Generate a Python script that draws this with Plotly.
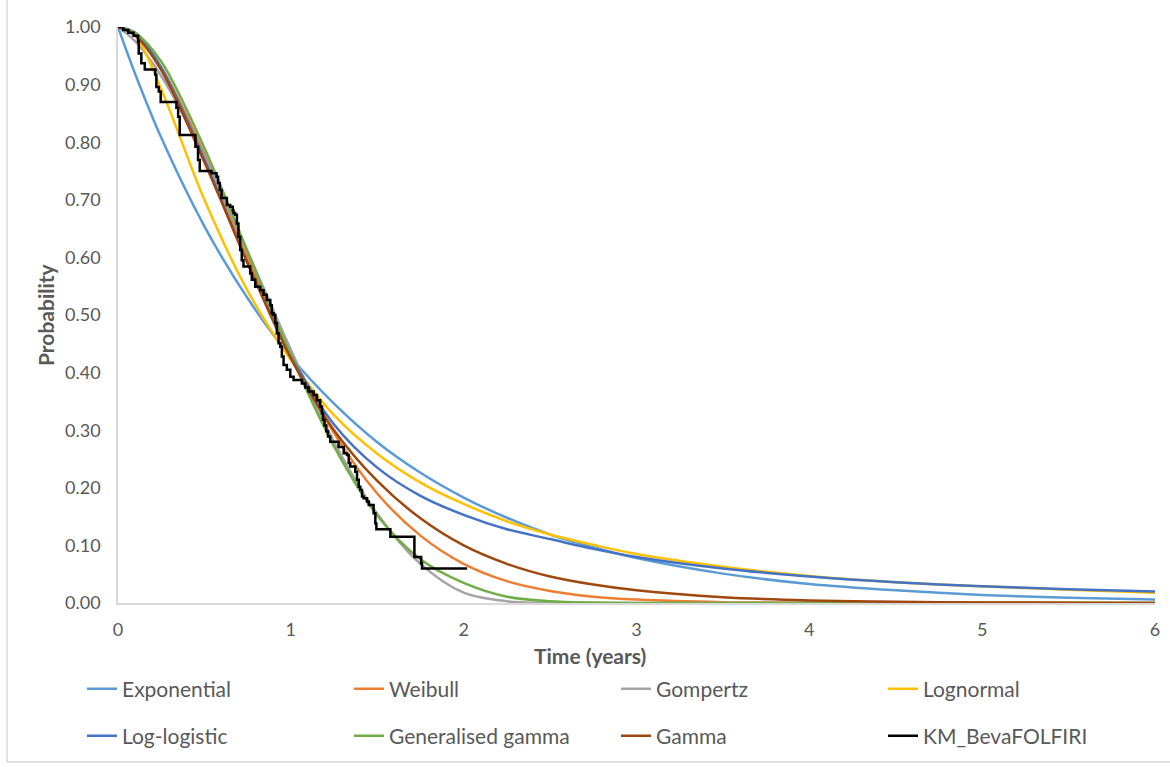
import plotly.graph_objects as go

# ---- data ----
time_grid = [0, 0.1, 0.25, 0.5, 0.75, 1, 1.25, 1.5, 1.75, 2, 2.25, 2.5, 2.75, 3, 3.5, 4, 4.5, 5, 5.5, 6]

exponential = [1, 0.918, 0.808, 0.654, 0.529, 0.427, 0.346, 0.279, 0.226, 0.183, 0.148, 0.119, 0.097, 0.078, 0.051, 0.033, 0.022, 0.014, 0.009, 0.006]
weibull = [1, 0.985, 0.93, 0.78, 0.60, 0.435, 0.295, 0.19, 0.117, 0.068, 0.038, 0.021, 0.011, 0.006, 0.0015, 0.0003, 0.0001, 0, 0, 0]
gompertz = [1, 0.975, 0.915, 0.775, 0.61, 0.44, 0.28, 0.155, 0.068, 0.018, 0.003, 0.0003, 0, 0, 0, 0, 0, 0, 0, 0]
lognormal = [1, 0.985, 0.892, 0.700, 0.542, 0.422, 0.326, 0.259, 0.209, 0.172, 0.142, 0.119, 0.101, 0.085, 0.063, 0.047, 0.036, 0.029, 0.023, 0.018]
loglogistic = [1, 0.99, 0.93, 0.77, 0.59, 0.43, 0.31, 0.235, 0.186, 0.153, 0.128, 0.111, 0.094, 0.080, 0.060, 0.046, 0.036, 0.029, 0.024, 0.020]
gen_gamma = [1, 0.99, 0.94, 0.79, 0.61, 0.43, 0.272, 0.152, 0.076, 0.035, 0.011, 0.003, 0.0007, 0.0001, 0, 0, 0, 0, 0, 0]
gamma = [1, 0.985, 0.925, 0.765, 0.59, 0.425, 0.30, 0.212, 0.147, 0.100, 0.068, 0.046, 0.032, 0.022, 0.010, 0.0045, 0.002, 0.001, 0.0005, 0.0002]

km_time = [0, 0.03, 0.06, 0.09, 0.116, 0.12, 0.135, 0.155, 0.216, 0.222,
           0.236, 0.247, 0.338, 0.348, 0.357, 0.448, 0.463, 0.473, 0.541, 0.570,
           0.579, 0.589, 0.599, 0.630, 0.649, 0.664, 0.668, 0.678, 0.688, 0.697,
           0.707, 0.716, 0.726, 0.765, 0.774, 0.794, 0.823, 0.842, 0.861, 0.881,
           0.890, 0.900, 0.910, 0.919, 0.929, 0.939, 0.948, 0.958, 0.977, 0.997,
           1.016, 1.064, 1.083, 1.103, 1.132, 1.151, 1.170, 1.180, 1.186, 1.195,
           1.205, 1.215, 1.228, 1.276, 1.306, 1.325, 1.335, 1.344, 1.373, 1.383,
           1.393, 1.402, 1.412, 1.421, 1.441, 1.451, 1.479, 1.489, 1.495, 1.576,
           1.715, 1.754, 1.759, 2.020]
km_surv = [1.0, 0.995, 0.99, 0.985, 0.975, 0.954, 0.937, 0.926, 0.917, 0.896,
           0.888, 0.870, 0.860, 0.844, 0.8125, 0.792, 0.769, 0.750, 0.746, 0.740,
           0.729, 0.717, 0.703, 0.691, 0.688, 0.682, 0.677, 0.674, 0.659, 0.636,
           0.613, 0.595, 0.584, 0.572, 0.561, 0.549, 0.543, 0.535, 0.526, 0.517,
           0.503, 0.500, 0.486, 0.468, 0.451, 0.445, 0.428, 0.413, 0.405, 0.393,
           0.387, 0.381, 0.374, 0.367, 0.361, 0.352, 0.341, 0.329, 0.318, 0.308,
           0.298, 0.289, 0.280, 0.271, 0.260, 0.257, 0.243, 0.237, 0.228, 0.214,
           0.202, 0.196, 0.185, 0.182, 0.176, 0.170, 0.156, 0.138, 0.128, 0.115,
           0.080, 0.069, 0.060, 0.060]

series_names = ["Exponential", "Weibull", "Gompertz", "Lognormal",
                "Log-logistic", "Generalised gamma", "Gamma", "KM_BevaFOLFIRI"]
series_colors = ["#5B9BD5", "#ED7D31", "#A5A5A5", "#FFC000",
                 "#4472C4", "#70AD47", "#9E480E", "#000000"]
x_ticks = [0, 1, 2, 3, 4, 5, 6]
y_ticks = [0, 0.1, 0.2, 0.3, 0.4, 0.5, 0.6, 0.7, 0.8, 0.9, 1.0]

model_values = [exponential, weibull, gompertz, lognormal, loglogistic, gen_gamma, gamma]

FONT = "Lato"
TXT = "#595959"

fig = go.Figure()
for i, vals in enumerate(model_values):
    fig.add_trace(go.Scatter(
        x=time_grid, y=vals, mode="lines", name=series_names[i],
        line=dict(color=series_colors[i], width=2.5, shape="spline", smoothing=0.9),
        legend="legend" if i < 4 else "legend2",
    ))
fig.add_trace(go.Scatter(
    x=km_time, y=km_surv, mode="lines", name=series_names[7],
    line=dict(color=series_colors[7], width=2.5, shape="hv"),
    legend="legend2",
))

L, R, T, B = 118, 15, 27, 164
W, H = 1170, 767
pw, ph = W - L - R, H - T - B

def px_x(p):
    return (p - L) / pw

def px_y(p):
    return (H - B - p) / ph

legend_common = dict(
    orientation="h", xanchor="left", yanchor="middle",
    font=dict(family=FONT, size=21, color=TXT),
    entrywidth=222, entrywidthmode="pixels",
    bgcolor="rgba(0,0,0,0)", itemwidth=30, traceorder="normal",
)

fig.update_layout(
    width=W, height=H,
    margin=dict(l=L, r=R, t=T, b=B, autoexpand=False),
    paper_bgcolor="white", plot_bgcolor="white",
    font=dict(family=FONT, color=TXT),
    legend=dict(x=px_x(82), y=px_y(689), **legend_common),
    legend2=dict(x=px_x(82), y=px_y(736), **legend_common),
    xaxis=dict(
        range=[0, 6], tickmode="array", tickvals=x_ticks,
        ticktext=[str(v) for v in x_ticks],
        showgrid=False, zeroline=False, showline=True,
        linecolor="#D9D9D9", linewidth=1.5, ticks="",
        tickfont=dict(family=FONT, size=18, color=TXT),
        ticklabelstandoff=10,
    ),
    yaxis=dict(
        range=[0, 1], tickmode="array", tickvals=y_ticks,
        ticktext=[f"{v:.2f}" for v in y_ticks],
        showgrid=False, zeroline=False, showline=True,
        linecolor="#D9D9D9", linewidth=1.5, ticks="",
        tickfont=dict(family=FONT, size=18, color=TXT),
        ticklabelstandoff=12,
    ),
    annotations=[
        dict(text="<b>Time (years)</b>", xref="paper", yref="paper",
             x=px_x(590), y=px_y(655), showarrow=False,
             font=dict(family=FONT, size=21, color=TXT),
             xanchor="center", yanchor="middle"),
        dict(text="<b>Probability</b>", xref="paper", yref="paper",
             x=px_x(45), y=px_y(315), showarrow=False, textangle=-90,
             font=dict(family=FONT, size=21, color=TXT),
             xanchor="center", yanchor="middle"),
    ],
    shapes=[
        dict(type="line", xref="paper", yref="paper",
             x0=px_x(7), x1=px_x(7), y0=px_y(0), y1=px_y(762),
             line=dict(color="#D9D9D9", width=1.5)),
        dict(type="line", xref="paper", yref="paper",
             x0=px_x(7), x1=px_x(1170), y0=px_y(762), y1=px_y(762),
             line=dict(color="#D9D9D9", width=1.5)),
    ],
)

fig.write_html("out.html")
